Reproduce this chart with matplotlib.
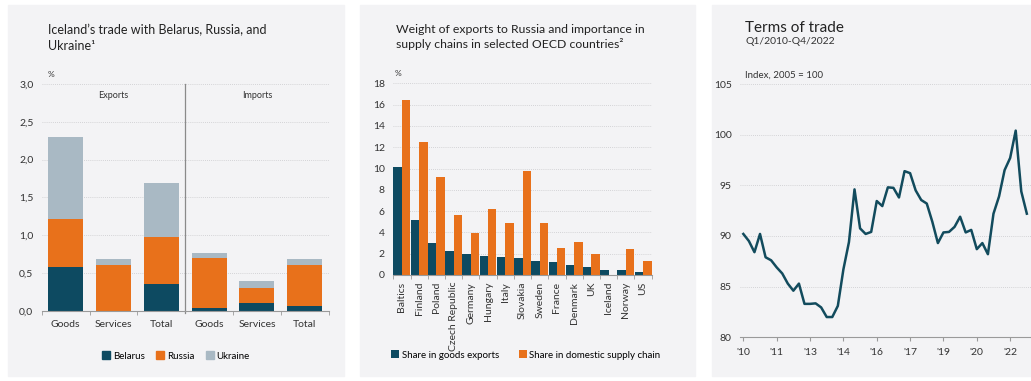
import matplotlib
matplotlib.use("Agg")
import matplotlib.pyplot as plt
from matplotlib.patches import Rectangle, Patch
from matplotlib.ticker import FixedLocator

plt.rcParams["font.family"] = ["Lato", "DejaVu Sans"]

# ---- data -------------------------------------------------------------
trade_cats = ["Goods", "Services", "Total", "Goods", "Services", "Total"]
belarus = [0.58, 0.00, 0.35, 0.03, 0.105, 0.06]
russia = [0.63, 0.60, 0.63, 0.67, 0.195, 0.545]
ukraine = [1.09, 0.08, 0.705, 0.06, 0.09, 0.075]

countries = ["Baltics", "Finland", "Poland", "Czech Republic", "Germany",
             "Hungary", "Italy", "Slovakia", "Sweden", "France", "Denmark",
             "UK", "Iceland", "Norway", "US"]
goods_share = [10.1, 5.2, 3.0, 2.25, 2.0, 1.75, 1.65, 1.55, 1.3, 1.25,
               0.95, 0.75, 0.45, 0.45, 0.32]
supply_share = [16.45, 12.45, 9.2, 5.6, 3.9, 6.2, 4.85, 9.8, 4.85, 2.5,
                3.1, 2.0, 0.0, 2.45, 1.3]

tot_index = [90.2, 89.5, 88.4, 90.2, 87.9, 87.6, 86.9, 86.3, 85.3, 84.6,
             85.3, 83.3, 83.3, 83.35, 82.95, 82.0, 82.0, 83.1, 86.7, 89.4,
             94.6, 90.75, 90.2, 90.4, 93.45, 92.95, 94.8, 94.75, 93.8, 96.4,
             96.2, 94.5, 93.55, 93.2, 91.4, 89.3, 90.35, 90.4, 90.9, 91.9,
             90.35, 90.6, 88.7, 89.3, 88.2, 92.2, 93.9, 96.5, 97.7, 100.4,
             94.4, 92.2]
tot_ticklabels = ["'10", "'11", "'13", "'14", "'16", "'17", "'19", "'20", "'22"]

# ---- style ------------------------------------------------------------
W, H = 1031, 381
C_BEL = "#0d4a61"
C_RUS = "#e8711b"
C_UKR = "#a9b9c4"
BG = "#f3f3f5"
GRID = "#c9c9cc"
TXT = "#333333"


def box(l, t, r, b):
    return [l / W, 1 - b / H, (r - l) / W, (b - t) / H]


def style_axes(ax, ysize=7.5):
    ax.set_facecolor("none")
    for s in ("left", "top", "right"):
        ax.spines[s].set_visible(False)
    ax.spines["bottom"].set_color("#9a9a9a")
    ax.spines["bottom"].set_linewidth(0.8)
    ax.tick_params(axis="y", length=0, labelsize=ysize, colors=TXT, pad=6)
    ax.tick_params(axis="x", labelsize=7.5, colors=TXT)
    ax.grid(axis="y", color=GRID, ls=(0, (1, 1.5)), lw=0.6)
    ax.set_axisbelow(True)


fig = plt.figure(figsize=(W / 100, H / 100), dpi=100)
fig.patch.set_facecolor("white")
for l, r in ((8, 344), (360, 695), (712, 1031)):
    fig.add_artist(Rectangle((l / W, 1 - 376 / H), (r - l) / W, 371 / H,
                             transform=fig.transFigure, color=BG, zorder=0))

# ---- panel 1: Iceland's trade ----------------------------------------
ax1 = fig.add_axes(box(41.7, 84, 328.7, 310.7))
style_axes(ax1)
x = range(len(trade_cats))
bot2 = [a + b for a, b in zip(belarus, russia)]
ax1.bar(x, belarus, width=0.73, color=C_BEL)
ax1.bar(x, russia, width=0.73, bottom=belarus, color=C_RUS)
ax1.bar(x, ukraine, width=0.73, bottom=bot2, color=C_UKR)
ax1.set_xlim(-0.5, 5.5)
ax1.set_ylim(0, 3)
ax1.set_yticks([0, 0.5, 1, 1.5, 2, 2.5, 3])
ax1.set_yticklabels(["0,0", "0,5", "1,0", "1,5", "2,0", "2,5", "3,0"])
ax1.set_xticks(list(x))
ax1.set_xticklabels(trade_cats)
ax1.tick_params(axis="x", which="major", length=0, pad=7)
ax1.xaxis.set_minor_locator(FixedLocator([-0.5, 0.5, 1.5, 3.5, 4.5, 5.5]))
ax1.tick_params(axis="x", which="minor", length=3, color="#9a9a9a")
ax1.plot([2.5, 2.5], [-0.03, 3.0], color="#8a8a8a", lw=0.9, clip_on=False)
ax1.text(1.0, 2.85, "Exports", ha="center", va="center", fontsize=6.5, color=TXT)
ax1.text(4.0, 2.85, "Imports", ha="center", va="center", fontsize=6.5, color=TXT)
ax1.text(-0.37, 3.12, "%", fontsize=6, color=TXT, va="center")
fig.text(48 / W, 1 - 38 / H, "Iceland’s trade with Belarus, Russia, and\nUkraine¹",
         fontsize=9, color="#222222", va="center", linespacing=1.3)
ax1.legend(handles=[Patch(color=C_BEL, label="Belarus"),
                    Patch(color=C_RUS, label="Russia"),
                    Patch(color=C_UKR, label="Ukraine")],
           loc="center", bbox_to_anchor=(176 / W, 1 - 356 / H),
           bbox_transform=fig.transFigure, ncol=3, frameon=False,
           fontsize=7, handlelength=0.8, handleheight=0.8,
           handletextpad=0.3, columnspacing=1.2)

# ---- panel 2: OECD exports to Russia ---------------------------------
ax2 = fig.add_axes(box(393.3, 83.3, 651.7, 275))
style_axes(ax2)
xc = range(len(countries))
ax2.bar([i - 0.245 for i in xc], goods_share, width=0.49, color=C_BEL,
        label="Share in goods exports")
ax2.bar([i + 0.245 for i in xc], supply_share, width=0.49, color=C_RUS,
        label="Share in domestic supply chain")
ax2.set_xlim(-0.5, 14.5)
ax2.set_ylim(0, 18)
ax2.set_yticks(range(0, 19, 2))
ax2.set_xticks(list(xc))
ax2.set_xticklabels(countries, rotation=90)
ax2.tick_params(axis="x", which="major", length=0, pad=5, labelsize=7.5)
ax2.xaxis.set_minor_locator(FixedLocator([i - 0.5 for i in range(16)]))
ax2.tick_params(axis="x", which="minor", length=3, color="#9a9a9a")
ax2.text(-0.45, 18.9, "%", fontsize=6, color=TXT, va="center")
fig.text(396 / W, 1 - 37 / H,
         "Weight of exports to Russia and importance in\n"
         "supply chains in selected OECD countries²",
         fontsize=8.8, color="#222222", va="center", linespacing=1.3)
ax2.legend(loc="center", bbox_to_anchor=(526 / W, 1 - 355 / H),
           bbox_transform=fig.transFigure, ncol=2, frameon=False,
           fontsize=7, handlelength=0.8, handleheight=0.8,
           handletextpad=0.3, columnspacing=2.0)

# ---- panel 3: terms of trade -----------------------------------------
ax3 = fig.add_axes(box(740, 84, 1031, 337.3))
style_axes(ax3, ysize=7.5)
ax3.plot(range(len(tot_index)), tot_index, color="#124b5d", lw=1.8,
         solid_joinstyle="round")
ax3.set_xlim(-0.6, 51.75)
ax3.set_ylim(80, 105)
ax3.set_yticks(range(80, 106, 5))
ax3.set_xticks(range(0, 49, 6))
ax3.set_xticklabels(tot_ticklabels)
ax3.tick_params(axis="x", length=3, color="#9a9a9a", pad=5)
fig.text(745 / W, 1 - 28 / H, "Terms of trade", fontsize=11,
         color="#222222", va="center")
fig.text(745 / W, 1 - 42 / H, "Q1/2010-Q4/2022", fontsize=7.5,
         color=TXT, va="center")
fig.text(745 / W, 1 - 75 / H, "Index, 2005 = 100", fontsize=7,
         color=TXT, va="center")

fig.savefig("out.png", dpi=100, facecolor=fig.get_facecolor())
